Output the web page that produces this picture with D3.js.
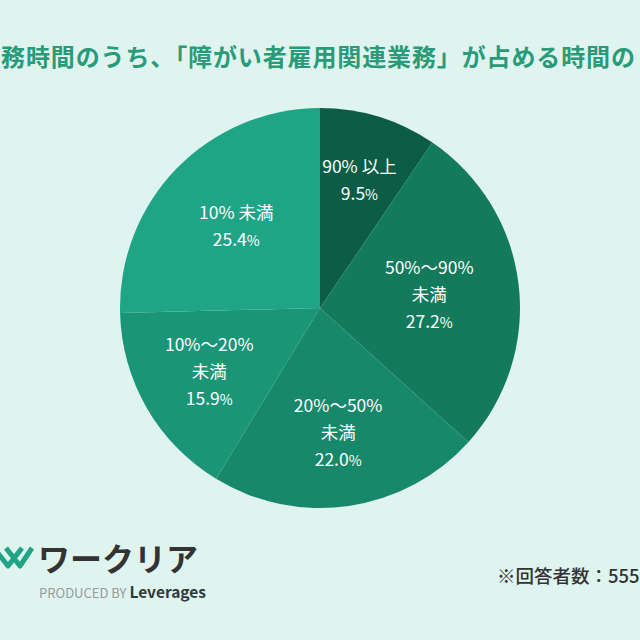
<!DOCTYPE html>
<html lang="ja">
<head>
<meta charset="UTF-8" />
<title>障がい者雇用関連業務の割合</title>
<script src="https://d3js.org/d3.v7.min.js"></script>
<style>
  html, body { margin: 0; padding: 0; background: #dff4ef; }
  svg { display: block; font-family: "Noto Sans CJK JP", "Noto Sans", sans-serif; }
</style>
</head>
<body>
<svg id="chart" width="640" height="640"></svg>
<script>
  // data
  const categories = [
    ["90% 以上"],
    ["50%〜90%", "未満"],
    ["20%〜50%", "未満"],
    ["10%〜20%", "未満"],
    ["10% 未満"]
  ];
  const values = [9.5, 27.2, 22.0, 15.9, 25.4];
  const colors = ["#0c5d46", "#137a5c", "#17886a", "#1a9577", "#1fa586"];

  // the title and note run past the picture's edges, only the visible part is kept
  const title = "務時間のうち、「障がい者雇用関連業務」が占める時間の";
  const note = "※回答者数：555";

  // distance of each label from the centre
  const labelRadius = [134, 110, 126, 128, 117];

  const svg = d3.select("#chart");
  const cx = 320, cy = 308, radius = 200;

  svg.append("rect").attr("width", 640).attr("height", 640).attr("fill", "#dff4ef");

  svg.append("text")
    .attr("x", 1).attr("y", 66)
    .attr("fill", "#2a9b78")
    .attr("font-size", 24)
    .attr("font-weight", 700)
    .attr("textLength", 634)
    .attr("lengthAdjust", "spacing")
    .text(title);

  const pie = d3.pie().sort(null).value(d => d);
  const arcs = pie(values);
  const arc = d3.arc().innerRadius(0).outerRadius(radius);

  const g = svg.append("g").attr("transform", `translate(${cx},${cy})`);

  g.selectAll("path")
    .data(arcs)
    .enter()
    .append("path")
    .attr("d", arc)
    .attr("fill", (d, i) => colors[i]);

  const lineH = 27;
  const labels = g.selectAll(".label")
    .data(arcs)
    .enter()
    .append("g")
    .attr("class", "label")
    .attr("transform", (d, i) => {
      const r = labelRadius[i];
      return `translate(${d3.arc().innerRadius(r).outerRadius(r).centroid(d)})`;
    });

  labels.each(function (d, i) {
    const lines = categories[i];
    const n = lines.length + 1;
    const top = -(n - 1) * lineH / 2;
    const sel = d3.select(this);
    lines.forEach((t, k) => {
      sel.append("text")
        .attr("y", top + k * lineH)
        .attr("dy", "0.35em")
        .attr("text-anchor", "middle")
        .attr("fill", "#ffffff")
        .attr("font-size", 17.5)
        .text(t);
    });
    const pct = sel.append("text")
      .attr("y", top + lines.length * lineH)
      .attr("dy", "0.35em")
      .attr("text-anchor", "middle")
      .attr("fill", "#ffffff")
      .attr("font-size", 17.5);
    pct.append("tspan").text(d3.format(".1f")(values[i]));
    pct.append("tspan").attr("font-size", 14).text("%");
  });

  // logo
  svg.append("path")
    .attr("d", "M-6,548 L8,566 L22,548 M6,548 L20,566 L32,548")
    .attr("fill", "none")
    .attr("stroke", "#1fa586")
    .attr("stroke-width", 5)
    .attr("stroke-linejoin", "round");

  svg.append("text")
    .attr("x", 38).attr("y", 571)
    .attr("fill", "#333333")
    .attr("font-size", 32)
    .attr("font-weight", 700)
    .text("ワークリア");

  const prod = svg.append("text")
    .attr("x", 39).attr("y", 598)
    .attr("font-size", 13);
  prod.append("tspan").attr("fill", "#9a9a9a").text("PRODUCED BY ");
  prod.append("tspan").attr("fill", "#2f3a3a").attr("font-size", 15.5).attr("font-weight", 700).text("Leverages");

  svg.append("text")
    .attr("x", 497).attr("y", 583)
    .attr("fill", "#333333")
    .attr("font-size", 18.5)
    .attr("font-weight", 500)
    .text(note);
</script>
</body>
</html>
